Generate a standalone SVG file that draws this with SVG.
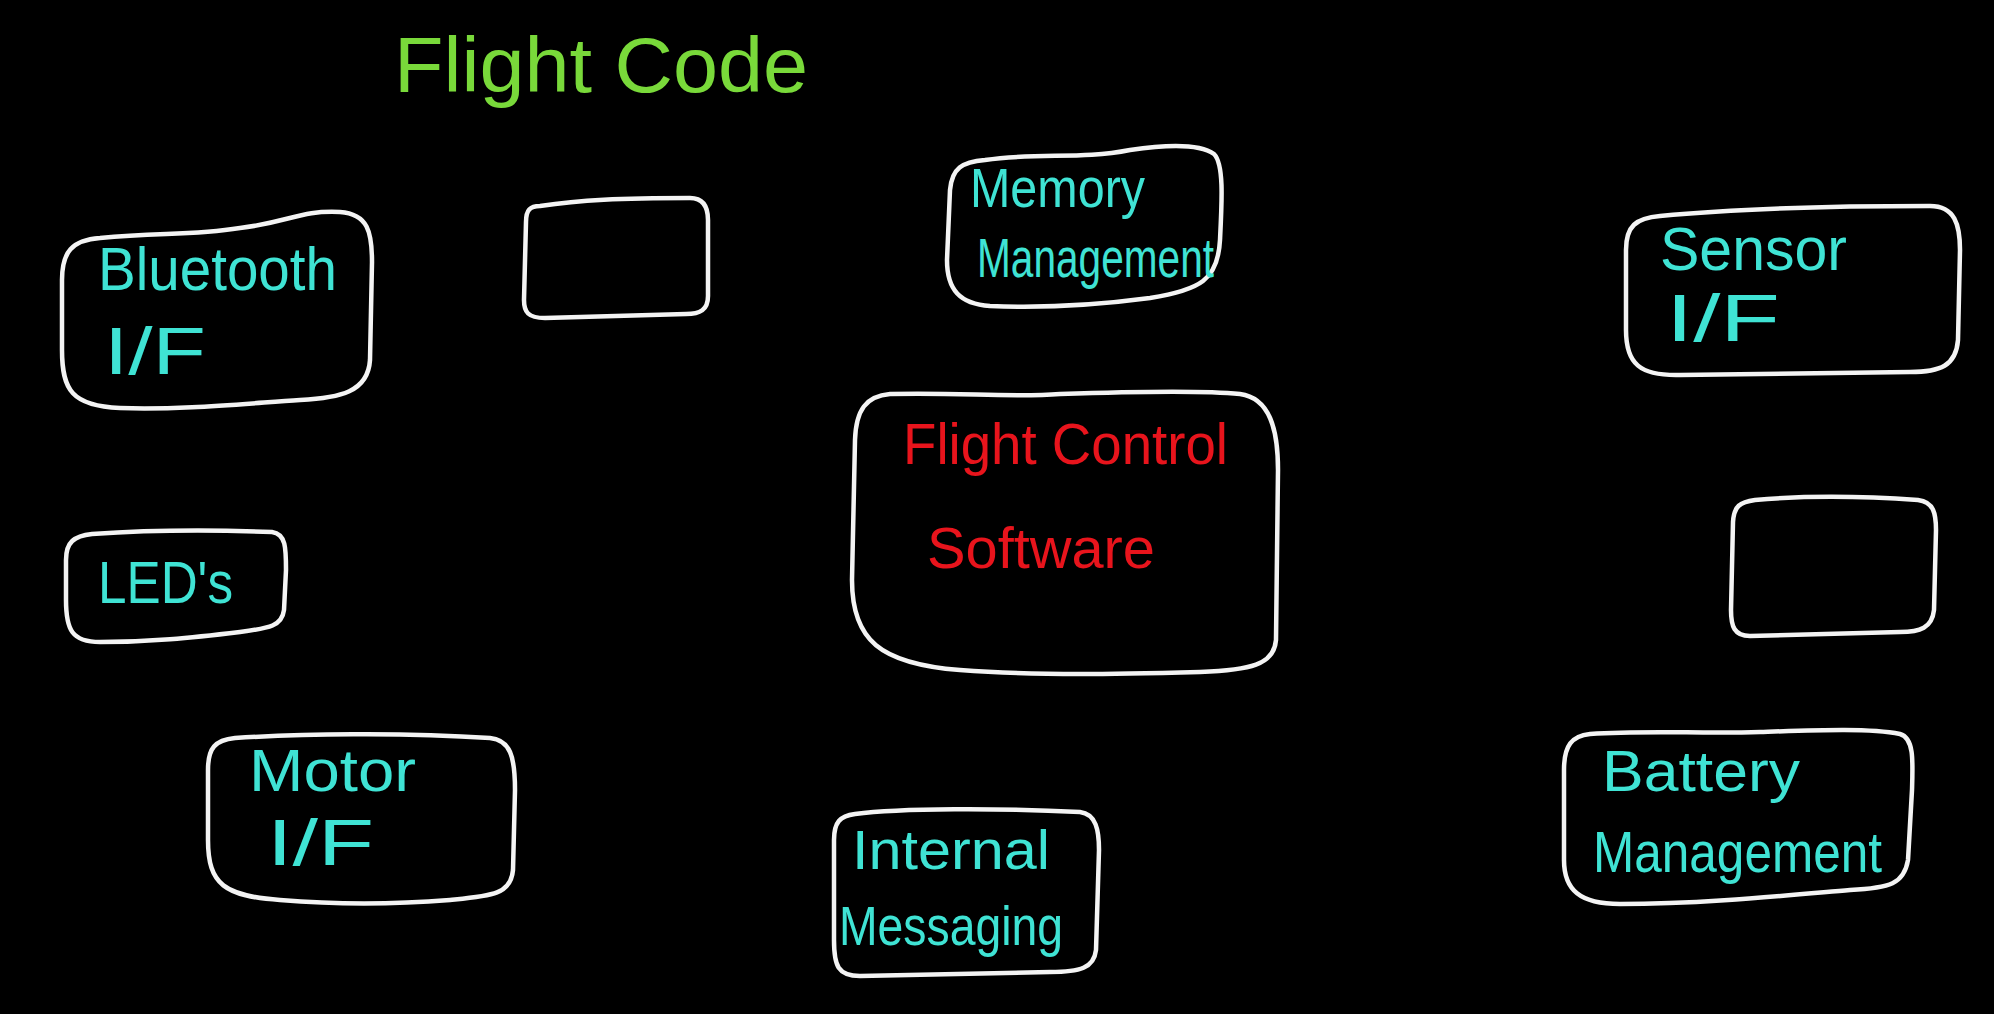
<svg xmlns="http://www.w3.org/2000/svg" width="1994" height="1014" viewBox="0 0 1994 1014">
<style>
.box{fill:none;stroke:#f4f4f4;stroke-width:4.5;stroke-linejoin:round}
.lbl{font-family:"Liberation Sans","DejaVu Sans",sans-serif;fill:#3fe3d4}
.red{font-family:"Liberation Sans","DejaVu Sans",sans-serif;fill:#e8141c}
.title{font-family:"Liberation Sans","DejaVu Sans",sans-serif;fill:#79d93a}
</style>
<rect width="1994" height="1014" fill="#000"/>
<text class="title" x="394" y="92" font-size="78" textLength="414" lengthAdjust="spacingAndGlyphs">Flight Code</text>
<g id="connectors"/>
<g id="bluetooth">
<path class="box" d="M100,238 C160,232 190,236 240,228 C290,222 300,210 340,212 C368,214 372,232 372,262 L370,360 C368,392 340,398 300,400 C240,404 180,410 120,408 C72,406 62,390 62,350 L62,280 C62,252 72,240 100,238 Z"/>
<text class="lbl" x="98" y="290" font-size="62" textLength="239" lengthAdjust="spacingAndGlyphs">Bluetooth</text>
<text class="lbl" x="104" y="374" font-size="66" textLength="102" lengthAdjust="spacingAndGlyphs">I/F</text>
</g>
<g id="empty1">
<path class="box" d="M540,206 C580,200 620,198 690,198 C704,198 708,208 708,220 L708,296 C708,310 700,314 686,314 L545,318 C528,318 524,312 524,300 L526,222 C526,210 530,206 540,206 Z"/>
</g>
<g id="memory">
<path class="box" d="M985,160 C1040,152 1080,160 1130,150 C1170,144 1200,144 1214,154 C1224,164 1222,200 1220,240 C1218,280 1200,290 1150,298 C1090,306 1040,308 990,306 C960,304 947,290 947,260 L950,190 C952,168 962,162 985,160 Z"/>
<text class="lbl" x="970" y="207" font-size="56" textLength="175" lengthAdjust="spacingAndGlyphs">Memory</text>
<text class="lbl" x="977" y="277" font-size="56" textLength="237" lengthAdjust="spacingAndGlyphs">Management</text>
</g>
<g id="sensor">
<path class="box" d="M1660,216 C1720,210 1800,206 1930,206 C1955,206 1960,225 1960,250 L1958,340 C1956,366 1940,372 1910,372 L1680,375 C1640,376 1626,364 1626,330 L1626,250 C1626,226 1636,218 1660,216 Z"/>
<text class="lbl" x="1660" y="270" font-size="62" textLength="187" lengthAdjust="spacingAndGlyphs">Sensor</text>
<text class="lbl" x="1666" y="341" font-size="66" textLength="114" lengthAdjust="spacingAndGlyphs">I/F</text>
</g>
<g id="fcs">
<path class="box" d="M890,394 C960,392 1010,398 1060,394 C1120,392 1200,390 1240,394 C1270,398 1278,430 1278,470 L1276,640 C1274,665 1250,670 1200,672 C1120,674 1040,676 960,670 C880,664 852,640 852,580 L855,440 C856,410 866,396 890,394 Z"/>
<text class="red" x="903" y="464" font-size="58" textLength="325" lengthAdjust="spacingAndGlyphs">Flight Control</text>
<text class="red" x="927" y="568" font-size="58" textLength="228" lengthAdjust="spacingAndGlyphs">Software</text>
</g>
<g id="leds">
<path class="box" d="M92,534 C150,530 220,530 272,532 C286,534 286,548 286,570 L284,610 C282,626 270,628 240,632 C190,638 150,642 100,642 C72,642 66,630 66,600 L66,560 C66,542 74,536 92,534 Z"/>
<text class="lbl" x="98" y="603" font-size="60" textLength="135" lengthAdjust="spacingAndGlyphs">LED's</text>
</g>
<g id="empty2">
<path class="box" d="M1755,500 C1800,496 1860,496 1918,500 C1934,502 1936,514 1936,530 L1934,610 C1932,628 1920,632 1900,632 L1750,636 C1734,636 1731,626 1731,610 L1733,522 C1734,506 1740,502 1755,500 Z"/>
</g>
<g id="motor">
<path class="box" d="M235,738 C300,734 400,732 490,738 C510,740 515,756 515,790 L513,870 C511,895 490,896 450,900 C400,904 340,905 280,900 C225,896 208,885 208,840 L208,770 C208,748 215,740 235,738 Z"/>
<text class="lbl" x="249" y="791" font-size="60" textLength="167" lengthAdjust="spacingAndGlyphs">Motor</text>
<text class="lbl" x="267" y="865" font-size="64" textLength="107" lengthAdjust="spacingAndGlyphs">I/F</text>
</g>
<g id="messaging">
<path class="box" d="M855,814 C900,808 1000,808 1080,812 C1096,814 1099,830 1099,850 L1096,950 C1094,968 1080,972 1050,972 L860,976 C838,976 834,966 834,940 L834,840 C834,822 840,816 855,814 Z"/>
<text class="lbl" x="852" y="869" font-size="56" textLength="198" lengthAdjust="spacingAndGlyphs">Internal</text>
<text class="lbl" x="839" y="945" font-size="56" textLength="224" lengthAdjust="spacingAndGlyphs">Messaging</text>
</g>
<g id="battery">
<path class="box" d="M1590,734 C1650,730 1700,734 1760,732 C1820,730 1870,728 1900,734 C1914,738 1913,760 1912,790 L1908,860 C1904,884 1890,888 1850,890 C1780,896 1700,904 1620,904 C1580,904 1564,890 1564,860 L1564,770 C1564,745 1572,736 1590,734 Z"/>
<text class="lbl" x="1602" y="791" font-size="58" textLength="198" lengthAdjust="spacingAndGlyphs">Battery</text>
<text class="lbl" x="1593" y="872" font-size="58" textLength="289" lengthAdjust="spacingAndGlyphs">Management</text>
</g>
</svg>
